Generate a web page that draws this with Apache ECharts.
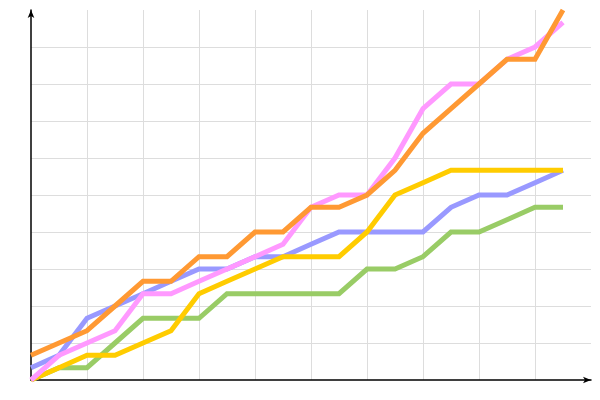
<!DOCTYPE html>
<html>
<head>
<meta charset="utf-8">
<script src="https://cdn.jsdelivr.net/npm/echarts@6/dist/echarts.min.js"></script>
<style>html,body{margin:0;padding:0;background:#fff}#c{width:600px;height:400px}</style>
</head>
<body>
<div id="c"></div>
<script>
const steps = [0,1,2,3,4,5,6,7,8,9,10,11,12,13,14,15,16,17,18,19];
const green  = [0,1,1,3,5,5,5,7,7,7,7,7,9,9,10,12,12,13,14,14];
const blue   = [1,2,5,6,7,8,9,9,10,10,11,12,12,12,12,14,15,15,16,17];
const yellow = [0,1,2,2,3,4,7,8,9,10,10,10,12,15,16,17,17,17,17,17];
const pink   = [0,2,3,4,7,7,8,9,10,11,14,15,15,18,22,24,24,26,27,29];
const orange = [2,3,4,6,8,8,10,10,12,12,14,14,15,17,20,22,24,26,26,30];

const seriesDefs = [
  {name:'green', data: green, color:'#99cc66'},
  {name:'blue', data: blue, color:'#9999ff'},
  {name:'yellow', data: yellow, color:'#ffcc00'},
  {name:'pink', data: pink, color:'#ff99ff'},
  {name:'orange', data: orange, color:'#ff9933'}
];

const chart = echarts.init(document.getElementById('c'), null, {renderer:'canvas'});
const axisCommon = {
  axisLabel:{show:false},
  axisTick:{show:false},
  axisLine:{show:true, onZero:false, symbol:['none','arrow'], symbolSize:[5,8], lineStyle:{color:'#000', width:1.5}},
};
chart.setOption({
  animation:false,
  grid:{left:31, right:9, top:10, bottom:20},
  xAxis:Object.assign({type:'value', min:0, max:20, interval:2,
    splitLine:{show:true, showMinLine:false, showMaxLine:false, lineStyle:{color:'#dddddd', width:1}}}, axisCommon),
  yAxis:Object.assign({type:'value', min:0, max:30, interval:3,
    splitLine:{show:true, showMinLine:false, showMaxLine:false, lineStyle:{color:'#dddddd', width:1}}}, axisCommon),
  series: seriesDefs.map(s => ({
    type:'line', name:s.name, showSymbol:false, symbol:'none',
    data: steps.map((x,i)=>[x, s.data[i]]),
    lineStyle:{color:s.color, width:5, cap:'butt', join:'miter'},
    itemStyle:{color:s.color}
  }))
});
</script>
</body>
</html>
